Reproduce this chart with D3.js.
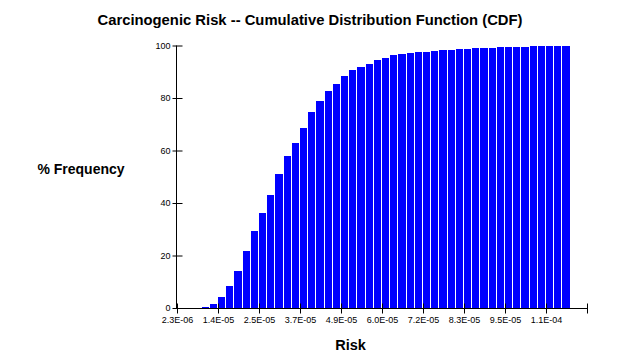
<!DOCTYPE html>
<html>
<head>
<meta charset="utf-8">
<script src="https://cdn.jsdelivr.net/npm/d3@7"></script>
<style>
  html, body { margin: 0; padding: 0; background: #fff; }
  svg { display: block; }
  text { font-family: "Liberation Sans", Arial, sans-serif; fill: #000; }
</style>
</head>
<body>
<div id="chart"></div>
<script>
// ---- data ----
const title = "Carcinogenic Risk -- Cumulative Distribution Function (CDF)";
const yTitle = "% Frequency";
const xTitle = "Risk";
// bin indices (50 bins on the axis, 48 drawn)
const bins = d3.range(48);
// cumulative % frequency per bin
const cdf = [0, 0, 0, 0.5, 1.5, 4.3, 8.4, 14.2, 21.9, 29.4, 36.3, 43.2, 51.1, 57.9, 63.0,
  68.4, 74.5, 78.7, 82.8, 85.5, 88.5, 90.5, 91.9, 92.8, 94.3, 95.4, 96.2, 96.9, 97.3,
  97.6, 97.6, 98.0, 98.4, 98.4, 98.7, 98.7, 99.1, 99.1, 99.1, 99.5, 99.5, 99.5, 99.5,
  99.9, 99.9, 99.9, 99.9, 100];
// x tick positions (bin index) and labels
const xTickBins = [0, 5, 10, 15, 20, 25, 30, 35, 40, 45, 50];
const xTickLabels = ["2.3E-06", "1.4E-05", "2.5E-05", "3.7E-05", "4.9E-05", "6.0E-05",
  "7.2E-05", "8.3E-05", "9.5E-05", "1.1E-04", ""];
const yTicks = [0, 20, 40, 60, 80, 100];

// ---- layout ----
const W = 626, H = 364;
const svg = d3.select("#chart").append("svg").attr("width", W).attr("height", H);

const x = d3.scaleLinear().domain([0, 50]).range([177, 587]);
const y = d3.scaleLinear().domain([0, 100]).range([308, 45.5]);

// bars
svg.append("g").selectAll("rect").data(bins.filter(i => cdf[i] > 0)).join("rect")
  .attr("x", i => Math.round(x(i)))
  .attr("width", i => Math.round(x(i + 1)) - Math.round(x(i)) - 1)
  .attr("y", i => Math.round(y(cdf[i])))
  .attr("height", i => 308 - Math.round(y(cdf[i])))
  .attr("fill", "#0000ff")
  .attr("shape-rendering", "crispEdges");

// y axis
const yAxis = d3.axisLeft(y).tickValues(yTicks).tickSize(5).tickPadding(2).tickFormat(d3.format("d"));
const gy = svg.append("g").attr("transform", "translate(176.5,0)").call(yAxis);
gy.select(".domain").remove();
gy.append("line").attr("x1", 0).attr("x2", 0).attr("y1", y(100)).attr("y2", y(0))
  .attr("stroke", "#000");
gy.selectAll(".tick line").attr("x1", 6).attr("x2", -4).attr("stroke", "#000");
gy.selectAll(".tick text").attr("font-size", 9).attr("x", -6)
  .style("font-family", "'Liberation Sans', Arial, sans-serif");

// x axis
const xAxis = d3.axisBottom(x).tickValues(xTickBins).tickSize(5)
  .tickFormat((d, i) => xTickLabels[i]);
const gx = svg.append("g").attr("transform", "translate(0,308.5)").call(xAxis);
gx.select(".domain").remove();
gx.append("line").attr("x1", x(0)).attr("x2", x(50)).attr("y1", 0).attr("y2", 0)
  .attr("stroke", "#000");
gx.selectAll(".tick line").attr("y1", -5).attr("y2", 5).attr("stroke", "#000");
gx.selectAll(".tick text").attr("font-size", 9).attr("y", 8)
  .style("font-family", "'Liberation Sans', Arial, sans-serif");

// titles
svg.append("text").attr("x", 310).attr("y", 25).attr("text-anchor", "middle")
  .attr("font-size", 14.8).attr("font-weight", "bold").text(title);
svg.append("text").attr("x", 81).attr("y", 174).attr("text-anchor", "middle")
  .attr("font-size", 14).attr("font-weight", "bold").text(yTitle);
svg.append("text").attr("x", 350.5).attr("y", 350).attr("text-anchor", "middle")
  .attr("font-size", 14.5).attr("font-weight", "bold").text(xTitle);
</script>
</body>
</html>
